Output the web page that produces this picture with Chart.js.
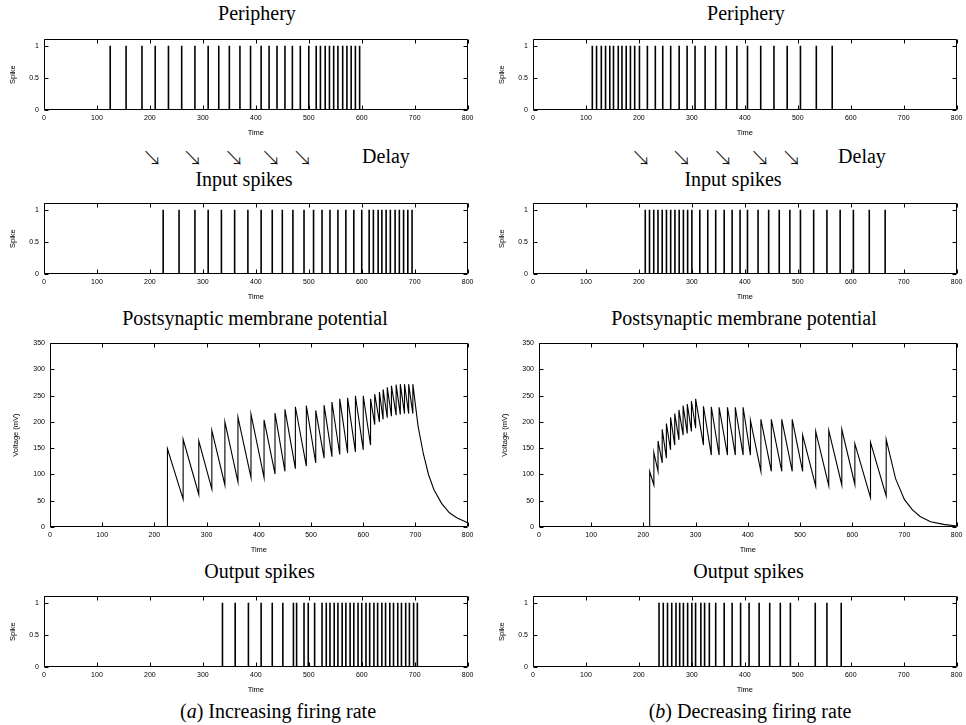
<!DOCTYPE html>
<html><head><meta charset="utf-8">
<script src="https://cdn.jsdelivr.net/npm/chart.js@4.4.1/dist/chart.umd.min.js"></script>
<style>
body{margin:0;background:#fff;}
#fig{position:relative;width:966px;height:725px;overflow:hidden;background:#fff;}
canvas{position:absolute;}
.t{position:absolute;font-family:"Liberation Serif","Times New Roman",serif;font-size:20px;color:#000;white-space:nowrap;line-height:20px;transform:translate(-50%,-50%);}
.ar{position:absolute;font-family:"Noto Sans CJK JP","DejaVu Sans",sans-serif;font-weight:300;font-size:20px;color:#111;line-height:20px;transform:translate(-50%,-50%);}
</style></head><body><div id="fig"></div>
<script>
// ---- tick labels ----
const xTicks=[0,100,200,300,400,500,600,700,800];
const spikeTicks=[0,0.5,1];
const voltTicks=[0,50,100,150,200,250,300,350];

// ---- (a) increasing firing rate ----
const periphA=[125,155,185,210,235,260,285,310,330,350,370,390,410,425,440,455,469,484,500,514,522,531,539,547,555,564,572,580,588,596];
const inputA=[225,255,285,310,335,360,385,410,431,450,470,491,509,525,540,555,570,585,600,614,622,631,638,646,654,663,671,679,687,695];
const voltTroughA=[0,53,62,72,80,86,94,94,101,106,111,116,122,131,134,138,141,143,147,156,195,200,205,208,211,213,214,216,216,216];
const voltPeakA=[149,167,164,184,200,209,215,204,217,224,229,231,222,232,238,244,246,250,250,244,253,257,262,266,269,271,272,272,272,272];
const tailTA=[705,715,725,735,750,765,780,800];
const tailVA=[192,140,100,72,45,27,17,8];
const outputA=[337,361,386,410,431,451,471,477,491,499,511,525,533,540,548,555,563,570,578,585,593,600,608,615,623,630,638,645,653,660,668,675,683,690,698,705];

// ---- (b) decreasing firing rate ----
const periphB=[112,120,129,137,145,152,161,168,176,184,192,201,216,231,245,260,276,291,306,325,345,365,385,405,430,455,480,505,535,565];
const inputB=[212,220,228,236,244,252,260,268,276,284,292,300,315,330,345,361,376,391,405,425,445,465,485,505,530,555,580,605,635,665];
const voltTroughB=[0,80,106,122,131,147,156,166,175,178,182,188,156,137,137,137,137,137,137,106,106,106,106,106,78,79,80,81,56,59];
const voltPeakB=[106,142,164,186,197,209,216,223,231,234,240,244,230,229,228,228,228,228,203,205,205,205,205,175,182,184,186,159,161,167];
const tailTB=[683,700,715,730,750,775,800];
const tailVB=[92,52,33,20,10,5,2];
const outputB=[238,246,254,262,270,277,284,292,300,307,317,324,333,345,361,376,392,408,427,447,467,486,533,555,582];

function spikeSeries(times){const p=[];times.forEach(t=>{p.push({x:t,y:0},{x:t,y:1},{x:t,y:null});});return p;}
function voltSeries(jumps,tr,pk,tt,tv){const p=[{x:0,y:0}];jumps.forEach((t,i)=>{p.push({x:t,y:tr[i]},{x:t,y:pk[i]});});tt.forEach((t,i)=>p.push({x:t,y:tv[i]}));return p;}

const framePlugin={id:'frame',afterDraw(chart){
  const {ctx,chartArea:a,scales:{x,y}}=chart;
  const L=Math.round(a.left)+0.5,R=Math.round(a.right)-0.5,T=Math.round(a.top)+0.5,B=Math.round(a.bottom)-0.5;
  ctx.save();ctx.strokeStyle='#000';ctx.lineWidth=1;ctx.beginPath();
  ctx.rect(L,T,R-L,B-T);
  const tl=4;
  x.ticks.forEach(t=>{const px=Math.round(x.getPixelForValue(t.value))+0.5;ctx.moveTo(px,B);ctx.lineTo(px,B-tl);ctx.moveTo(px,T);ctx.lineTo(px,T+tl);});
  y.ticks.forEach(t=>{const py=Math.round(y.getPixelForValue(t.value))+0.5;ctx.moveTo(L,py);ctx.lineTo(L+tl,py);ctx.moveTo(R,py);ctx.lineTo(R-tl,py);});
  ctx.stroke();ctx.restore();
}};

const fig=document.getElementById('fig');
const tickFont={family:'"Liberation Sans", Arial, sans-serif',size:7};
const titleFont={family:'"Liberation Sans", Arial, sans-serif',size:7.5};

function panel(cfg){
  const padTop=6,padRight=8,xH=30;
  const yW=cfg.plotL-cfg.cx;
  const cw=cfg.plotR-cfg.cx+padRight;
  const cy=cfg.plotT-padTop;
  const ch=padTop+(cfg.plotB-cfg.plotT)+xH;
  const c=document.createElement('canvas');
  c.width=cw;c.height=ch;c.style.left=cfg.cx+'px';c.style.top=cy+'px';c.style.width=cw+'px';c.style.height=ch+'px';
  fig.appendChild(c);
  new Chart(c,{type:'line',
    data:{datasets:[{data:cfg.data,borderColor:'#000',borderWidth:cfg.lw,pointRadius:0,spanGaps:false,tension:0}]},
    plugins:[framePlugin],
    options:{responsive:false,animation:false,devicePixelRatio:1,
      layout:{padding:{left:0,top:padTop,right:padRight,bottom:0}},
      plugins:{legend:{display:false},tooltip:{enabled:false}},
      scales:{
        x:{type:'linear',min:0,max:800,
          afterBuildTicks:s=>{s.ticks=xTicks.map(v=>({value:v}));},
          afterFit:s=>{s.height=xH;},
          grid:{display:false,drawTicks:false},border:{display:false},
          ticks:{font:tickFont,color:'#000',padding:3.5,maxRotation:0,autoSkip:false,callback:v=>String(v)},
          title:{display:true,text:'Time',font:titleFont,color:'#000',padding:{top:0,bottom:3}}},
        y:{type:'linear',min:0,max:cfg.ymax,
          afterBuildTicks:s=>{s.ticks=cfg.yticks.map(v=>({value:v}));},
          afterFit:s=>{s.width=yW;},
          grid:{display:false,drawTicks:false},border:{display:false},
          ticks:{font:tickFont,color:'#000',padding:5,autoSkip:false,callback:v=>String(v)},
          title:{display:true,text:cfg.ylabel,font:titleFont,color:'#000',padding:{top:cfg.ytitlePad,bottom:0}}}
      }}
  });
}

const cols=[
  {cx:0,sL:44,vL:50,R:469,periph:periphA,input:inputA,output:outputA,volt:voltSeries(inputA,voltTroughA,voltPeakA,tailTA,tailVA)},
  {cx:489,sL:533,vL:539,R:958,periph:periphB,input:inputB,output:outputB,volt:voltSeries(inputB,voltTroughB,voltPeakB,tailTB,tailVB)}
];
cols.forEach(col=>{
  panel({cx:col.cx,plotL:col.sL,plotR:col.R,plotT:36,plotB:110,data:spikeSeries(col.periph),ymax:1.1,yticks:spikeTicks,ylabel:'Spike',lw:1.6,ytitlePad:8.5});
  panel({cx:col.cx,plotL:col.sL,plotR:col.R,plotT:200,plotB:274,data:spikeSeries(col.input),ymax:1.1,yticks:spikeTicks,ylabel:'Spike',lw:1.6,ytitlePad:8.5});
  panel({cx:col.cx,plotL:col.vL,plotR:col.R,plotT:340,plotB:527,data:col.volt,ymax:350,yticks:voltTicks,ylabel:'Voltage (mV)',lw:1.1,ytitlePad:11});
  panel({cx:col.cx,plotL:col.sL,plotR:col.R,plotT:593,plotB:667,data:spikeSeries(col.output),ymax:1.1,yticks:spikeTicks,ylabel:'Spike',lw:1.6,ytitlePad:8.5});
});

function txt(s,x,y,cls){const d=document.createElement('div');d.className=cls||'t';d.innerHTML=s;d.style.left=x+'px';d.style.top=y+'px';fig.appendChild(d);}
txt('Periphery',257,12.5);txt('Periphery',746,12.5);
txt('Delay',386,156);txt('Delay',862,156);
[152,192.5,234,271,302.5].forEach(x=>{txt('\u2198',x,158,'ar');txt('\u2198',x+489,158,'ar');});
txt('Input spikes',244,179);txt('Input spikes',733,179);
txt('Postsynaptic membrane potential',255,318);txt('Postsynaptic membrane potential',744,318);
txt('Output spikes',259.5,571);txt('Output spikes',748.5,571);
txt('(<i>a</i>) Increasing firing rate',278,711);txt('(<i>b</i>) Decreasing firing rate',750,711);
</script></body></html>
